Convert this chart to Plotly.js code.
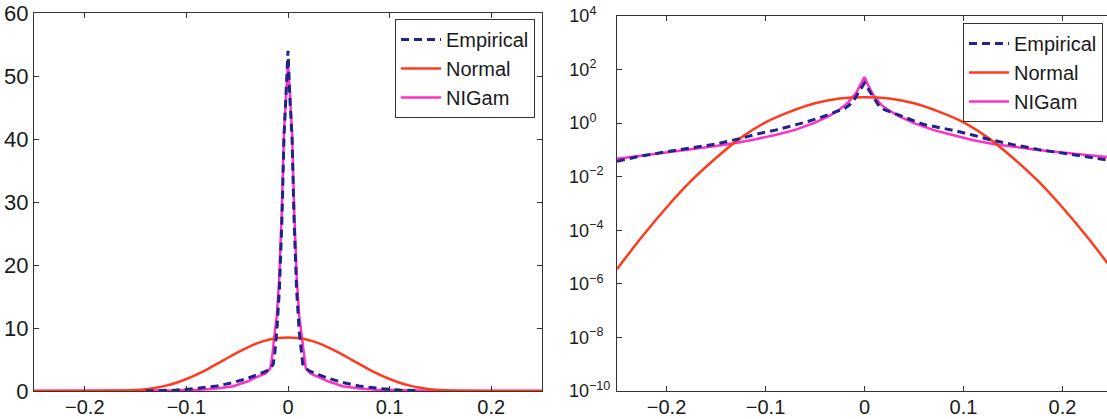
<!DOCTYPE html>
<html>
<head>
<meta charset="utf-8">
<script src="https://cdn.plot.ly/plotly-3.0.1.min.js"></script>
<style>
html,body{margin:0;padding:0;overflow:hidden;background:#fff;}
#chart{width:1115px;height:419px;}
</style>
</head>
<body>
<div id="chart"></div>
<script>
// ---------- Left panel (linear density) ----------
const empLinX = [-0.14,-0.13,-0.11,-0.09,-0.07,-0.055,-0.04,-0.03,-0.022,-0.017,-0.0145,-0.013,-0.011,-0.0085,-0.006,-0.004,-0.002,0,0.002,0.004,0.006,0.0085,0.011,0.013,0.0145,0.017,0.022,0.03,0.04,0.055,0.07,0.09,0.11,0.13];
const empLinY = [0.01,0.04,0.15,0.4,0.8,1.3,2.0,2.6,3.1,3.6,4.3,6,9.5,16,27,40,46,54,46,40,27,16,9.5,6,4.3,3.6,3.1,2.6,2.0,1.3,0.8,0.4,0.15,0.04];

const normLinX = [-0.25,-0.2,-0.16,-0.15,-0.14,-0.13,-0.12,-0.11,-0.1,-0.09,-0.08,-0.07,-0.06,-0.05,-0.04,-0.03,-0.02,-0.01,0,0.01,0.02,0.03,0.04,0.05,0.06,0.07,0.08,0.09,0.1,0.11,0.12,0.13,0.14,0.15,0.16,0.2,0.25];
const normLinY = [0,0.003,0.06,0.14,0.28,0.5,0.85,1.3,1.9,2.6,3.4,4.3,5.2,6.1,6.9,7.6,8.1,8.4,8.5,8.4,8.1,7.6,6.9,6.1,5.2,4.3,3.4,2.6,1.9,1.3,0.85,0.5,0.28,0.14,0.06,0.003,0];

const nigLinX = [-0.25,-0.2,-0.15,-0.11,-0.087,-0.07,-0.054,-0.04,-0.031,-0.022,-0.0175,-0.0155,-0.0137,-0.011,-0.0087,-0.006,-0.004,-0.002,0,0.002,0.004,0.006,0.0087,0.011,0.0137,0.0155,0.0175,0.022,0.031,0.04,0.054,0.07,0.087,0.11,0.15,0.2,0.25];
const nigLinY = [0.02,0.03,0.05,0.1,0.2,0.4,0.75,1.5,2.2,2.8,3.6,5.5,8.4,12,17.6,29,41,47,52,47,41,29,17.6,12,8.4,5.5,3.6,2.8,2.2,1.5,0.75,0.4,0.2,0.1,0.05,0.03,0.02];

// ---------- Right panel (log density) ----------
const empLogX = [-0.25,-0.225,-0.2,-0.175,-0.15,-0.125,-0.11,-0.09,-0.075,-0.06,-0.045,-0.03,-0.02,-0.015,-0.01,-0.005,0,0.005,0.01,0.015,0.02,0.03,0.045,0.06,0.075,0.09,0.11,0.125,0.15,0.175,0.2,0.225,0.25];
const empLogY = [0.038,0.0603,0.0851,0.117,0.166,0.269,0.38,0.55,0.759,1.072,1.585,2.512,3.548,4.786,7.943,15.85,31.6,15.85,7.94,4.2,3.2,2.3,1.41,0.891,0.692,0.537,0.355,0.251,0.158,0.105,0.0759,0.055,0.0398];

const normLogX = [-0.25,-0.225,-0.2,-0.175,-0.15,-0.125,-0.1,-0.075,-0.05,-0.025,0,0.025,0.05,0.075,0.1,0.125,0.15,0.175,0.2,0.225,0.25];
const normLogY = [3.55e-6,5.62e-5,7.08e-4,7.08e-3,0.0501,0.282,1.07,2.69,5.5,8.32,9.33,8.32,5.5,2.69,1.07,0.282,0.0501,7.08e-3,7.08e-4,5.62e-5,3.55e-6];

const nigLogX = [-0.25,-0.225,-0.2,-0.175,-0.15,-0.13,-0.11,-0.09,-0.07,-0.05,-0.035,-0.025,-0.017,-0.012,-0.008,-0.004,0,0.004,0.008,0.012,0.017,0.025,0.035,0.05,0.07,0.09,0.11,0.13,0.15,0.175,0.2,0.225,0.25];
const nigLogY = [0.0468,0.0603,0.0794,0.105,0.141,0.182,0.251,0.363,0.562,1.047,1.905,3.31,5.62,8.91,14.1,28.2,52.5,25.1,12.6,7.94,4.79,2.95,1.78,1.0,0.55,0.355,0.229,0.166,0.132,0.1,0.0794,0.0631,0.0525];

const xTickVals = [-0.2,-0.1,0,0.1,0.2];
const linTickVals = [0,10,20,30,40,50,60];
const logTickVals = [1e-10,1e-8,1e-6,1e-4,1e-2,1,1e2,1e4];
const logTickText = ['10<sup>−10</sup>','10<sup>−8\u00a0\u00a0</sup>','10<sup>−6\u00a0\u00a0</sup>','10<sup>−4\u00a0\u00a0</sup>','10<sup>−2\u00a0\u00a0</sup>','10<sup>0\u00a0\u00a0\u00a0\u00a0</sup>','10<sup>2\u00a0\u00a0\u00a0\u00a0</sup>','10<sup>4\u00a0\u00a0\u00a0\u00a0</sup>'];

const names = ['Empirical','Normal','NIGam'];
const cEmp = '#1f238c', cNorm = '#ff3a1e', cNig = '#ff2fc8';

function traces(xa, ya, leg, xs, ys){
  return [
    {x:xs[2], y:ys[2], name:names[2], type:'scatter', mode:'lines', xaxis:xa, yaxis:ya, legend:leg, legendrank:3,
     line:{color:cNig, width:2.5}},
    {x:xs[1], y:ys[1], name:names[1], type:'scatter', mode:'lines', xaxis:xa, yaxis:ya, legend:leg, legendrank:2,
     line:{color:cNorm, width:2.5, shape:'spline', smoothing:0.8}},
    {x:xs[0], y:ys[0], name:names[0], type:'scatter', mode:'lines', xaxis:xa, yaxis:ya, legend:leg, legendrank:1,
     line:{color:cEmp, width:3, dash:'8px,5px'}}
  ];
}

const data = [
  ...traces('x','y','legend',[empLinX,normLinX,nigLinX],[empLinY,normLinY,nigLinY]),
  ...traces('x2','y2','legend2',[empLogX,normLogX,nigLogX],[empLogY,normLogY,nigLogY])
];

const W = 1115, H = 419;
const font = {family:'"Liberation Sans", Arial, Helvetica, sans-serif', color:'#1a1a1a'};
const axBase = {showline:true, linecolor:'#333', linewidth:1, mirror:'ticks', ticks:'inside', ticklen:5,
  tickcolor:'#333', showgrid:false, zeroline:false};

const layout = {
  width:W, height:H,
  margin:{l:0,r:0,t:0,b:0},
  paper_bgcolor:'#fff', plot_bgcolor:'#fff',
  font:font,
  showlegend:true,
  xaxis:Object.assign({}, axBase, {domain:[34/W, 542/W], range:[-0.25,0.25], tickvals:xTickVals,
    tickfont:{size:20}, ticklabelstandoff:-2, anchor:'y'}),
  yaxis:Object.assign({}, axBase, {domain:[28/H, 406/H], range:[0,60], tickvals:linTickVals,
    tickfont:{size:22}, anchor:'x'}),
  xaxis2:Object.assign({}, axBase, {domain:[617/W, 1112/W], range:[-0.25,0.25], tickvals:xTickVals,
    tickfont:{size:20}, ticklabelstandoff:-2, anchor:'y2'}),
  yaxis2:Object.assign({}, axBase, {domain:[28/H, 403/H], type:'log', range:[-10,4], tickvals:logTickVals,
    ticktext:logTickText, tickfont:{size:18}, ticklabelstandoff:2, anchor:'x2'}),
  legend:{x:535/W, xanchor:'right', y:(H-19)/H, yanchor:'top', bgcolor:'#fff', bordercolor:'#333', borderwidth:1,
    font:{size:20}, traceorder:'normal', tracegroupgap:0, itemwidth:40},
  legend2:{x:1103/W, xanchor:'right', y:(H-23)/H, yanchor:'top', bgcolor:'#fff', bordercolor:'#333', borderwidth:1,
    font:{size:20}, traceorder:'normal', tracegroupgap:0, itemwidth:40}
};

Plotly.newPlot('chart', data, layout, {displayModeBar:false, staticPlot:true});
</script>
</body>
</html>
